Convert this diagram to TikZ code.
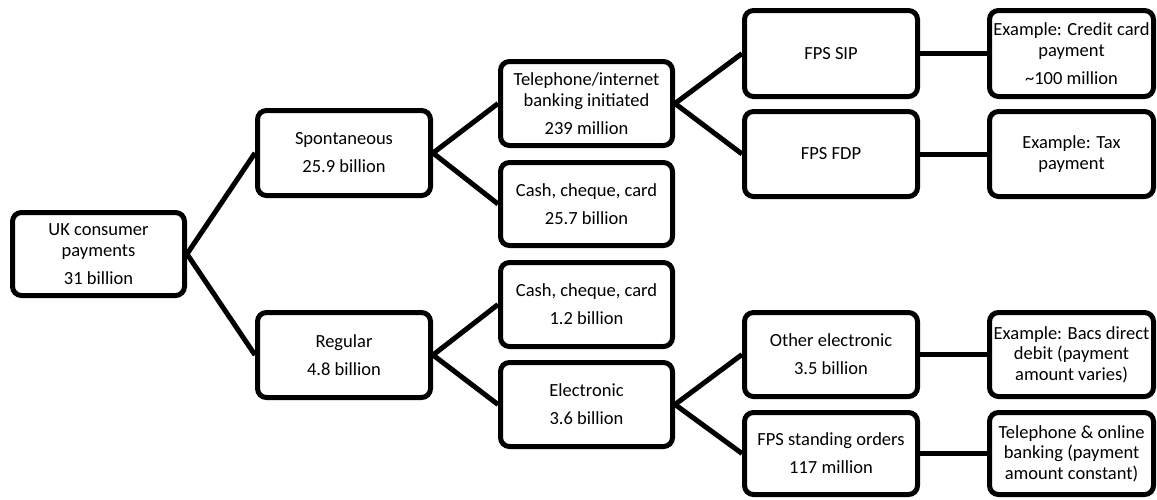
\documentclass[tikz,border=0pt]{standalone}
\usepackage{fontspec}
\setmainfont{Carlito}
\begin{document}
\begin{tikzpicture}[x=1pt,y=-1pt,
  box/.style={draw=black, line width=5pt, rounded corners=9pt, fill=white,
    inner sep=0pt, minimum width=172pt, minimum height=84pt, align=center,
    font=\fontsize{18.5}{20.5}\selectfont},
  conn/.style={line width=5pt, black}]
\useasboundingbox (0,0) rectangle (1157,499);
\newcommand{\gp}{\\[7.5pt]}
\node[box, minimum height=83pt] (root) at (98.5,254) {UK consumer\\payments\gp 31 billion};
\node[box, minimum height=85pt, minimum width=173pt] (spont) at (344,153) {Spontaneous\gp 25.9 billion};
\node[box, minimum height=85pt, minimum width=173pt] (reg) at (344,355) {Regular\gp 4.8 billion};
\node[box] (tel) at (586.5,103.5) {Telephone/internet\\banking initiated\gp 239 million};
\node[box, minimum height=83pt] (cash1) at (586.5,204) {Cash, cheque, card\gp 25.7 billion};
\node[box] (cash2) at (586.5,304.5) {Cash, cheque, card\gp 1.2 billion};
\node[box] (elec) at (586.5,404.5) {Electronic\gp 3.6 billion};
\node[box, minimum width=173pt, minimum height=86pt] (sip) at (831,53.5) {FPS SIP};
\node[box, minimum width=173pt, minimum height=85pt] (fdp) at (831,154) {FPS FDP};
\node[box, minimum width=173pt] (oth) at (831,354.5) {Other electronic\gp 3.5 billion};
\node[box, minimum width=173pt, minimum height=82pt] (fso) at (831,453.5) {FPS standing orders\gp 117 million};
\node[box, minimum width=164pt, minimum height=86pt] (ex1) at (1071.5,53.5) {Example: Credit card\\payment\gp \textasciitilde100 million};
\node[box, minimum width=164pt, minimum height=85pt] (ex2) at (1071.5,154) {Example: Tax\\payment};
\node[box, minimum width=164pt] (ex3) at (1071.5,354.5) {Example: Bacs direct\\debit (payment\\amount varies)};
\node[box, minimum width=164pt, minimum height=82pt] (ex4) at (1071.5,453.5) {Telephone \& online\\banking (payment\\amount constant)};
\draw[conn] (root.east) -- (spont.west);
\draw[conn] (root.east) -- (reg.west);
\draw[conn] (spont.east) -- (tel.west);
\draw[conn] (spont.east) -- (cash1.west);
\draw[conn] (reg.east) -- (cash2.west);
\draw[conn] (reg.east) -- (elec.west);
\draw[conn] (tel.east) -- (sip.west);
\draw[conn] (tel.east) -- (fdp.west);
\draw[conn] (elec.east) -- (oth.west);
\draw[conn] (elec.east) -- (fso.west);
\draw[conn] (sip.east) -- (ex1.west);
\draw[conn] (fdp.east) -- (ex2.west);
\draw[conn] (oth.east) -- (ex3.west);
\draw[conn] (fso.east) -- (ex4.west);
\end{tikzpicture}
\end{document}
